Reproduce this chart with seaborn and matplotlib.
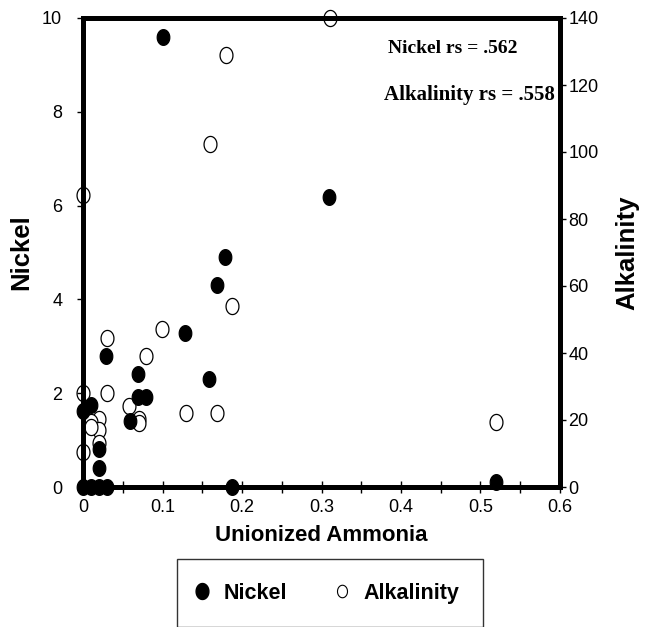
import numpy as np
import pandas as pd
import matplotlib
matplotlib.use("Agg")
import matplotlib.pyplot as plt
from matplotlib.path import Path
from matplotlib.lines import Line2D
import seaborn as sns

# values
nickel_x = [0.1, 0.309, 0.179, 0.169, 0.128, 0.029, 0.069, 0.158, 0.069, 0.079,
            0.059, 0.0, 0.01, 0.02, 0.02, 0.0, 0.01, 0.02, 0.03, 0.188, 0.519]
nickel_y = [9.6, 6.19, 4.9, 4.31, 3.28, 2.79, 2.41, 2.3, 1.91, 1.91,
            1.41, 1.61, 1.74, 0.81, 0.41, 0.0, 0.0, 0.0, 0.0, 0.0, 0.11]

alk_x = [0.311, 0.18, 0.16, 0.0, 0.188, 0.099, 0.03, 0.079, 0.03, 0.0, 0.058,
         0.129, 0.169, 0.07, 0.07, 0.02, 0.01, 0.02, 0.01, 0.0, 0.02, 0.519]
alk_y = [140, 129, 102.3, 87.2, 54.0, 47.2, 44.4, 39.1, 28.0, 28.0, 24.2,
         22.0, 22.0, 20.2, 19.2, 20.2, 19.5, 17.0, 18.0, 10.4, 13.0, 19.5]

nickel = pd.DataFrame({"Unionized Ammonia": nickel_x, "Nickel": nickel_y})
alk = pd.DataFrame({"Unionized Ammonia": alk_x, "Alkalinity": alk_y})

sns.set_style("white", {"text.color": "black", "axes.labelcolor": "black",
                        "xtick.color": "black", "ytick.color": "black"})
plt.rcParams["font.family"] = ["Liberation Sans", "DejaVu Sans"]

# slightly tall ellipse marker like the scanned figure
t = np.linspace(0, 2 * np.pi, 60)
ellipse = Path(np.column_stack([0.8 * np.cos(t), np.sin(t)]))

fig = plt.figure(figsize=(6.52, 6.27), dpi=100)
ax = fig.add_axes([83 / 652, 1 - 487 / 627, 477 / 652, 469 / 627])
ax2 = ax.twinx()

sns.scatterplot(data=alk, x="Unionized Ammonia", y="Alkalinity", ax=ax2,
                marker=ellipse, s=135, facecolor="white", edgecolor="black",
                linewidth=0.9, clip_on=False, zorder=2)
sns.scatterplot(data=nickel, x="Unionized Ammonia", y="Nickel", ax=ax,
                marker=ellipse, s=128, color="black", edgecolor="black",
                clip_on=False, zorder=3)

ax.set_zorder(ax2.get_zorder() + 1)
ax.patch.set_visible(False)

ax.set_xlim(0, 0.6)
ax.set_ylim(0, 10)
ax2.set_ylim(0, 140)
ax.set_xticks(np.arange(0, 0.61, 0.1))
ax.set_xticklabels(["0", "0.1", "0.2", "0.3", "0.4", "0.5", "0.6"])
ax.set_xticks(np.arange(0.05, 0.6, 0.1), minor=True)
ax.set_yticks(range(0, 11, 2))
ax2.set_yticks(range(0, 141, 20))

for a in (ax, ax2):
    for sp in a.spines.values():
        sp.set_linewidth(3.5)
        sp.set_color("black")
    a.tick_params(labelsize=13, colors="black", width=1)

ax.tick_params(axis="x", which="both", direction="inout", length=8, width=1,
               bottom=True, pad=5)
ax.tick_params(axis="y", left=True, direction="out", length=4, pad=11)
ax2.tick_params(axis="y", right=True, direction="out", length=4, pad=2)

ax.set_xlabel("Unionized Ammonia", fontsize=16, fontweight="bold", labelpad=6)
ax.set_ylabel("Nickel", fontsize=18.5, fontweight="bold", labelpad=6)
ax2.set_ylabel("Alkalinity", fontsize=18.5, fontweight="bold", labelpad=12)

ax.text(0.776, 0.936, "Nickel rs = .562", transform=ax.transAxes,
        family="Liberation Serif", fontweight="bold", fontsize=14,
        ha="center", va="center")
ax.text(0.99, 0.836, "Alkalinity rs = .558", transform=ax.transAxes,
        family="Liberation Serif", fontweight="bold", fontsize=15,
        ha="right", va="center")

handles = [
    Line2D([], [], linestyle="none", marker=ellipse, markersize=11.5,
           markerfacecolor="black", markeredgecolor="black"),
    Line2D([], [], linestyle="none", marker=ellipse, markersize=9,
           markerfacecolor="white", markeredgecolor="black", markeredgewidth=0.8),
]
leg = fig.legend(handles, ["Nickel", "Alkalinity"], ncol=2,
                 loc="upper left", bbox_to_anchor=(177 / 652, 1 - 559 / 627),
                 borderaxespad=0, frameon=True, fancybox=False, edgecolor="black",
                 prop={"weight": "bold", "size": 15.5}, borderpad=1.1,
                 handletextpad=0.95, columnspacing=2.5, handlelength=0.1)
leg.get_frame().set_linewidth(1.0)

fig.savefig("out.png", dpi=100)
